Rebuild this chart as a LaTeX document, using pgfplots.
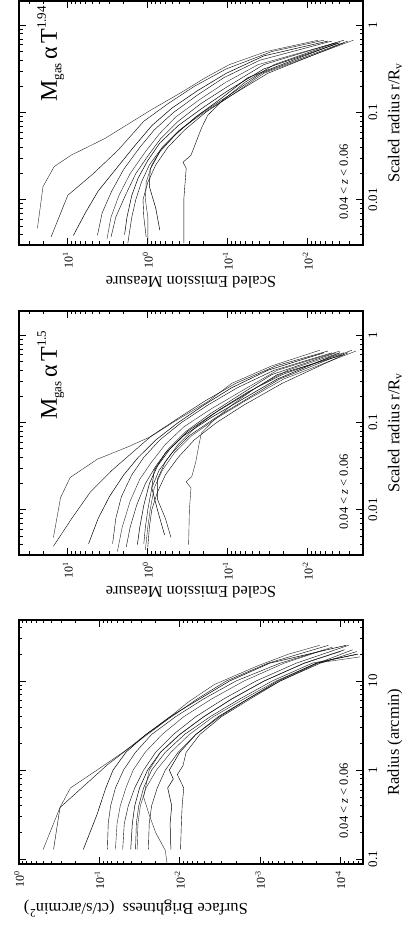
\documentclass[border=0pt]{standalone}
\usepackage{fontspec}
\setmainfont{Liberation Serif}
\usepackage{graphicx}
\usepackage{pgfplots}
\pgfplotsset{compat=1.18}

% data are stored as log10 values; ticks are labelled as powers of ten
\newcommand{\mlabel}[1]{M\raisebox{-4.5pt}{\fontsize{13}{13}\selectfont gas}\hspace{4pt}α\hspace{3pt}T\raisebox{11pt}{\fontsize{13}{13}\selectfont #1}}
\pgfplotsset{
  panel/.style={
    scale only axis, width=244pt, height=344pt, anchor=south west,
    axis line style={line width=1.1pt},
    tick align=inside, major tick length=7pt, minor tick length=3.5pt,
    every tick/.style={black, line width=0.7pt},
    tick label style={font=\fontsize{13}{13}\selectfont},
    yticklabel style={font=\fontsize{12}{12}\selectfont, xshift=-3pt},
    xticklabel style={yshift=-2pt},
    label style={font=\fontsize{16.5}{17}\selectfont},
    xlabel style={at={(axis description cs:0.5,-0.093)}, anchor=center},
    cycle list={{black!85, solid, line width=0.5pt, mark=none}},
  },
  em/.style={
    panel,
    xmin=-2.52, xmax=0.28, ymin=-2.69, ymax=1.61,
    xtick={-2,-1,0}, xticklabels={0.01,0.1,1},
    minor xtick={-2.398,-2.301,-2.222,-2.155,-2.097,-2.046,
      -1.699,-1.523,-1.398,-1.301,-1.222,-1.155,-1.097,-1.046,
      -0.699,-0.523,-0.398,-0.301,-0.222,-0.155,-0.097,-0.046},
    ytick={-2,-1,0,1},
    yticklabels={10\textsuperscript{-2},10\textsuperscript{-1},10\textsuperscript{0},10\textsuperscript{1}},
    minor ytick={-2.523,-2.398,-2.301,-2.222,-2.155,-2.097,-2.046,
      -1.699,-1.523,-1.398,-1.301,-1.222,-1.155,-1.097,-1.046,
      -0.699,-0.523,-0.398,-0.301,-0.222,-0.155,-0.097,-0.046,
      0.301,0.477,0.602,0.699,0.778,0.845,0.903,0.954,1.301,1.477,1.602},
    xlabel={Scaled radius r/R\textsubscript{v}},
    ylabel={Scaled Emission Measure},
    ylabel style={at={(axis description cs:-0.152,0.5)}, anchor=center},
  },
}

\begin{document}
\rotatebox{90}{%
\begin{tikzpicture}[x=1pt,y=1pt]
\useasboundingbox (0,0) rectangle (926,407);

% ---- surface brightness profiles
\begin{axis}[panel, at={(62pt,44pt)},
  xmin=-1.053, xmax=1.684, ymin=-4.28, ymax=0,
  xtick={-1,0,1}, xticklabels={0.1,1,10},
  minor xtick={-1.046,-0.699,-0.523,-0.398,-0.301,-0.222,-0.155,-0.097,-0.046,
    0.301,0.477,0.602,0.699,0.778,0.845,0.903,0.954,1.301,1.477,1.602},
  ytick={-4,-3,-2,-1,0},
  yticklabels={10\textsuperscript{-4},10\textsuperscript{-3},10\textsuperscript{-2},10\textsuperscript{-1},10\textsuperscript{0}},
  minor ytick={-4.222,-4.155,-4.097,-4.046,
    -3.699,-3.523,-3.398,-3.301,-3.222,-3.155,-3.097,-3.046,
    -2.699,-2.523,-2.398,-2.301,-2.222,-2.155,-2.097,-2.046,
    -1.699,-1.523,-1.398,-1.301,-1.222,-1.155,-1.097,-1.046,
    -0.699,-0.523,-0.398,-0.301,-0.222,-0.155,-0.097,-0.046},
  xlabel={Radius (arcmin)},
  ylabel={Surface Brightness\enspace(ct/s/arcmin\textsuperscript{2})},
  ylabel style={at={(axis description cs:-0.184,0.66)}, anchor=center},
]
\addplot coordinates {(-0.89,-0.30)(-0.42,-0.51)(-0.20,-0.64)(0.0,-0.97)(0.21,-1.31)(0.48,-1.72)(0.76,-2.10)(0.96,-2.43)(1.17,-2.97)(1.30,-3.35)(1.40,-3.74)};
\addplot coordinates {(-0.89,-0.43)(-0.42,-0.51)(0.06,-1.10)(0.17,-1.26)(0.40,-1.58)(0.60,-1.90)(0.80,-2.22)(1.0,-2.58)(1.2,-3.10)(1.40,-3.85)};
\addplot coordinates {(-0.89,-0.80)(-0.5,-0.97)(-0.2,-1.08)(0.0,-1.17)(0.2,-1.33)(0.4,-1.58)(0.6,-1.88)(0.8,-2.25)(1.0,-2.62)(1.2,-3.12)(1.40,-4.07)};
\addplot coordinates {(-0.89,-1.10)(-0.6,-1.11)(-0.4,-1.14)(-0.2,-1.20)(0.0,-1.30)(0.2,-1.45)(0.4,-1.65)(0.6,-1.95)(0.8,-2.30)(1.0,-2.70)(1.2,-3.25)(1.35,-3.80)};
\addplot coordinates {(-0.89,-1.20)(-0.6,-1.22)(-0.4,-1.26)(-0.2,-1.33)(0.0,-1.42)(0.2,-1.57)(0.4,-1.78)(0.6,-2.05)(0.8,-2.40)(1.0,-2.80)(1.2,-3.30)(1.38,-3.90)};
\addplot coordinates {(-0.89,-1.29)(-0.6,-1.31)(-0.4,-1.36)(-0.2,-1.44)(0.0,-1.55)(0.2,-1.70)(0.4,-1.92)(0.6,-2.20)(0.8,-2.55)(1.0,-2.95)(1.2,-3.45)(1.40,-4.10)};
\addplot coordinates {(-0.89,-1.39)(-0.6,-1.41)(-0.4,-1.44)(-0.2,-1.50)(0.0,-1.60)(0.2,-1.76)(0.4,-2.00)(0.6,-2.30)(0.8,-2.65)(1.0,-3.05)(1.2,-3.55)(1.35,-4.05)};
\addplot coordinates {(-0.89,-1.45)(-0.6,-1.46)(-0.4,-1.49)(-0.2,-1.55)(0.0,-1.65)(0.2,-1.82)(0.4,-2.06)(0.6,-2.38)(0.8,-2.75)(1.0,-3.15)(1.2,-3.65)(1.30,-4.22)};
\addplot coordinates {(-0.89,-1.47)(-0.6,-1.48)(-0.4,-1.51)(-0.2,-1.58)(0.0,-1.71)(0.2,-1.89)(0.4,-2.12)(0.6,-2.42)(0.8,-2.80)(1.0,-3.20)(1.2,-3.70)(1.27,-4.24)};
\addplot coordinates {(-0.89,-1.61)(-0.6,-1.62)(-0.4,-1.65)(-0.2,-1.72)(0.0,-1.82)(0.2,-1.98)(0.4,-2.20)(0.6,-2.50)(0.8,-2.85)(1.0,-3.25)(1.2,-3.75)(1.33,-4.20)};
\addplot coordinates {(-0.89,-1.89)(-0.6,-1.88)(-0.4,-1.90)(-0.2,-1.85)(-0.1,-1.92)(0.0,-1.87)(0.2,-2.00)(0.4,-2.20)(0.6,-2.48)(0.8,-2.85)(1.0,-3.22)(1.2,-3.70)(1.30,-4.20)};
\addplot coordinates {(-0.89,-2.01)(-0.6,-2.02)(-0.4,-2.03)(-0.2,-2.05)(-0.05,-1.97)(0.05,-2.04)(0.2,-2.08)(0.4,-2.25)(0.6,-2.52)(0.8,-2.88)(1.0,-3.25)(1.2,-3.72)(1.35,-4.15)};
\addplot coordinates {(-1.10,-1.85)(-0.9,-1.82)(-0.7,-1.70)(-0.5,-1.62)(-0.3,-1.55)(0.0,-1.62)(0.2,-1.76)(0.4,-2.00)(0.6,-2.30)(0.8,-2.65)(1.0,-3.05)(1.2,-3.55)(1.33,-4.00)};
\node[anchor=base west, font=\fontsize{12.5}{13}\selectfont] at (rel axis cs:0.09,0.044) {0.04 < \textit{z} < 0.06};
\end{axis}

% ---- emission measure, M_gas ~ T^1.5
\begin{axis}[em, at={(371pt,44pt)}]
\addplot coordinates {(-2.32,1.18)(-1.86,1.09)(-1.63,0.97)(-1.42,0.63)(-1.28,0.25)(-1.16,-0.04)(-0.99,-0.33)(-0.76,-0.75)(-0.55,-1.05)(-0.35,-1.55)(-0.17,-2.15)};
\addplot coordinates {(-2.42,1.18)(-2.1,0.95)(-1.8,0.72)(-1.55,0.45)(-1.35,0.20)(-1.15,-0.05)(-0.95,-0.38)(-0.75,-0.72)(-0.55,-1.10)(-0.35,-1.60)(-0.18,-2.25)};
\addplot coordinates {(-2.39,0.74)(-2.1,0.62)(-1.85,0.48)(-1.6,0.30)(-1.4,0.12)(-1.2,-0.10)(-1.0,-0.38)(-0.8,-0.70)(-0.6,-1.05)(-0.4,-1.50)(-0.2,-2.20)};
\addplot coordinates {(-2.39,0.44)(-2.1,0.40)(-1.85,0.33)(-1.6,0.20)(-1.4,0.05)(-1.2,-0.15)(-1.0,-0.42)(-0.8,-0.75)(-0.6,-1.12)(-0.4,-1.58)(-0.2,-2.30)};
\addplot coordinates {(-2.48,0.38)(-2.2,0.32)(-1.9,0.22)(-1.65,0.10)(-1.45,-0.05)(-1.25,-0.22)(-1.05,-0.45)(-0.85,-0.78)(-0.65,-1.15)(-0.4,-1.62)(-0.18,-2.40)};
\addplot coordinates {(-2.43,0.27)(-2.2,0.22)(-1.95,0.14)(-1.7,0.03)(-1.5,-0.10)(-1.3,-0.26)(-1.1,-0.48)(-0.9,-0.78)(-0.7,-1.12)(-0.45,-1.55)(-0.2,-2.35)};
\addplot coordinates {(-2.40,0.13)(-2.2,0.10)(-1.95,0.05)(-1.7,-0.02)(-1.5,-0.12)(-1.3,-0.28)(-1.1,-0.50)(-0.9,-0.82)(-0.7,-1.18)(-0.45,-1.62)(-0.22,-2.45)};
\addplot coordinates {(-2.39,0.05)(-2.2,0.03)(-2.0,0.0)(-1.75,-0.05)(-1.55,-0.14)(-1.35,-0.30)(-1.15,-0.52)(-0.95,-0.84)(-0.75,-1.20)(-0.5,-1.65)(-0.17,-2.55)};
\addplot coordinates {(-2.46,0.03)(-2.2,0.0)(-2.0,-0.03)(-1.75,-0.08)(-1.55,-0.18)(-1.35,-0.33)(-1.15,-0.55)(-0.95,-0.86)(-0.75,-1.22)(-0.5,-1.70)(-0.18,-2.60)};
\addplot coordinates {(-2.43,0.0)(-2.2,-0.02)(-2.0,-0.05)(-1.8,-0.12)(-1.6,-0.22)(-1.4,-0.38)(-1.2,-0.58)(-1.0,-0.86)(-0.8,-1.20)(-0.55,-1.68)(-0.2,-2.50)};
\addplot coordinates {(-2.29,-0.21)(-2.0,-0.12)(-1.75,-0.05)(-1.55,-0.08)(-1.35,-0.22)(-1.15,-0.45)(-0.95,-0.78)(-0.75,-1.15)(-0.5,-1.62)(-0.2,-2.40)};
\addplot coordinates {(-2.32,-0.29)(-2.1,-0.22)(-1.88,-0.12)(-1.65,-0.12)(-1.45,-0.22)(-1.25,-0.38)(-1.05,-0.60)(-0.85,-0.90)(-0.65,-1.25)(-0.45,-1.68)(-0.2,-2.45)};
\addplot coordinates {(-2.40,-0.51)(-2.0,-0.52)(-1.75,-0.54)(-1.68,-0.48)(-1.62,-0.55)(-1.45,-0.60)(-1.25,-0.64)(-1.12,-0.67)(-0.97,-0.83)(-0.8,-1.05)(-0.6,-1.35)(-0.4,-1.75)(-0.2,-2.40)};
\node[anchor=base west, font=\fontsize{12.5}{13}\selectfont] at (rel axis cs:0.09,0.044) {0.04 < \textit{z} < 0.06};
\node[anchor=base west, font=\fontsize{24}{24}\selectfont, inner sep=0pt] at (rel axis cs:0.553,0.89) {\mlabel{1.5}};
\end{axis}

% ---- emission measure, M_gas ~ T^1.94
\begin{axis}[em, at={(681pt,44pt)}]
\addplot coordinates {(-2.33,1.38)(-1.85,1.31)(-1.62,1.17)(-1.49,0.96)(-1.30,0.54)(-0.97,-0.04)(-0.78,-0.40)(-0.6,-0.72)(-0.45,-1.02)(-0.3,-1.48)(-0.17,-2.13)};
\addplot coordinates {(-2.43,1.21)(-1.95,1.0)(-1.7,0.68)(-1.43,0.37)(-1.10,0.05)(-0.9,-0.25)(-0.7,-0.58)(-0.5,-0.98)(-0.3,-1.55)(-0.17,-2.20)};
\addplot coordinates {(-2.41,0.93)(-2.15,0.78)(-1.9,0.62)(-1.65,0.40)(-1.4,0.18)(-1.15,-0.05)(-0.95,-0.30)(-0.75,-0.62)(-0.55,-0.98)(-0.35,-1.45)(-0.18,-2.25)};
\addplot coordinates {(-2.41,0.63)(-2.15,0.57)(-1.9,0.45)(-1.65,0.30)(-1.4,0.10)(-1.2,-0.08)(-1.0,-0.32)(-0.8,-0.62)(-0.6,-0.95)(-0.4,-1.40)(-0.18,-2.30)};
\addplot coordinates {(-2.45,0.51)(-2.2,0.46)(-1.95,0.36)(-1.7,0.22)(-1.45,0.03)(-1.25,-0.14)(-1.05,-0.35)(-0.85,-0.65)(-0.65,-0.98)(-0.45,-1.38)(-0.2,-2.35)};
\addplot coordinates {(-2.43,0.46)(-2.2,0.40)(-1.95,0.28)(-1.7,0.15)(-1.5,0.0)(-1.3,-0.16)(-1.1,-0.38)(-0.9,-0.66)(-0.7,-1.0)(-0.45,-1.45)(-0.17,-2.45)};
\addplot coordinates {(-2.40,0.29)(-2.2,0.26)(-1.95,0.20)(-1.75,0.12)(-1.55,0.0)(-1.35,-0.15)(-1.15,-0.38)(-0.95,-0.68)(-0.75,-1.0)(-0.5,-1.45)(-0.2,-2.40)};
\addplot coordinates {(-2.50,0.25)(-2.2,0.20)(-2.0,0.15)(-1.8,0.08)(-1.6,-0.02)(-1.4,-0.18)(-1.2,-0.40)(-1.0,-0.68)(-0.8,-1.02)(-0.55,-1.42)(-0.18,-2.50)};
\addplot coordinates {(-2.50,0.0)(-2.2,0.0)(-2.0,0.03)(-1.8,0.02)(-1.6,-0.05)(-1.4,-0.18)(-1.2,-0.40)(-1.0,-0.70)(-0.8,-1.05)(-0.55,-1.45)(-0.17,-2.57)};
\addplot coordinates {(-2.43,0.02)(-2.2,0.05)(-2.0,0.06)(-1.8,0.0)(-1.6,-0.1)(-1.4,-0.25)(-1.2,-0.46)(-1.0,-0.72)(-0.8,-1.05)(-0.55,-1.50)(-0.2,-2.45)};
\addplot coordinates {(-2.35,-0.15)(-2.1,-0.10)(-1.85,-0.02)(-1.65,-0.03)(-1.45,-0.15)(-1.25,-0.35)(-1.05,-0.60)(-0.85,-0.90)(-0.6,-1.25)(-0.2,-2.38)};
\addplot coordinates {(-2.50,-0.45)(-2.0,-0.45)(-1.64,-0.48)(-1.57,-0.44)(-1.49,-0.54)(-1.18,-0.67)(-1.03,-0.75)(-0.85,-0.95)(-0.65,-1.22)(-0.45,-1.58)(-0.2,-2.35)};
\node[anchor=base west, font=\fontsize{12.5}{13}\selectfont] at (rel axis cs:0.09,0.044) {0.04 < \textit{z} < 0.06};
\node[anchor=base west, font=\fontsize{24}{24}\selectfont, inner sep=0pt] at (rel axis cs:0.586,0.89) {\mlabel{1.94}};
\end{axis}
\end{tikzpicture}}
\end{document}
